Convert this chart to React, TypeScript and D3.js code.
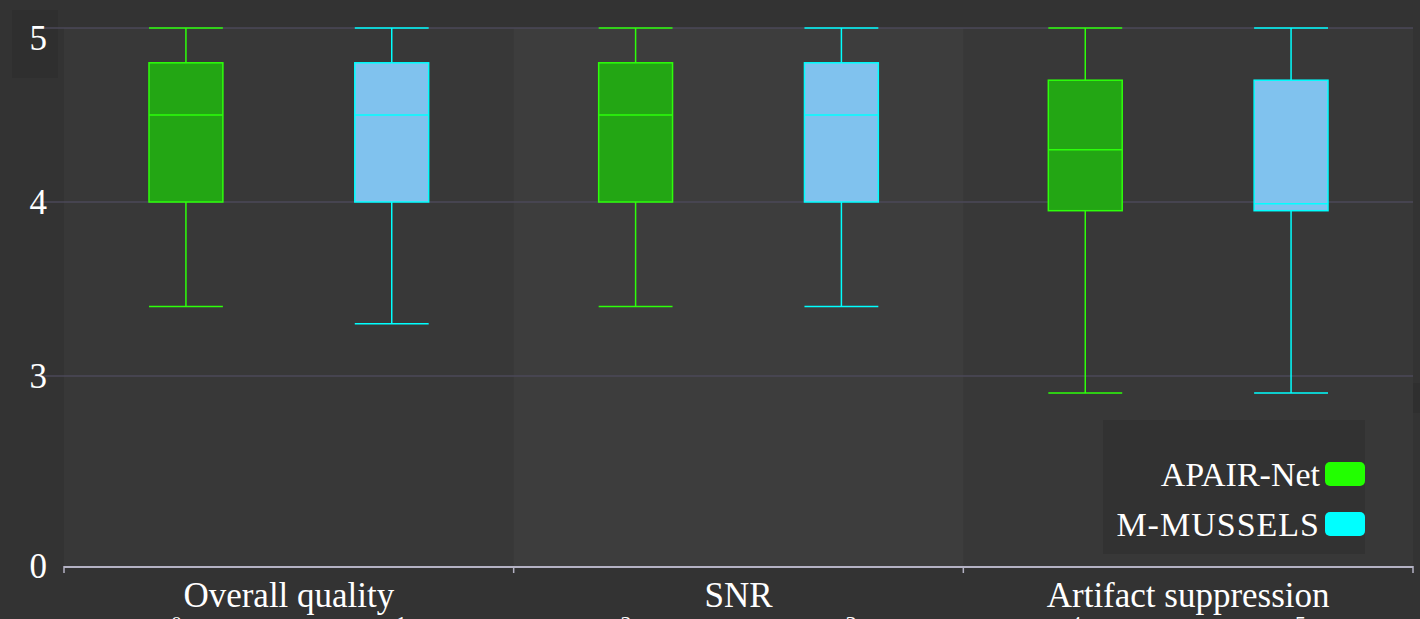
import React, { useEffect, useRef } from 'react';
import * as d3 from 'd3';

const categories = ['Overall quality', 'SNR', 'Artifact suppression'];
const seriesNames = ['APAIR-Net', 'M-MUSSELS'];

// [min, q1, median, q3, max] per category
const apairStats = [
  [3.4, 4.0, 4.5, 4.8, 5.0],
  [3.4, 4.0, 4.5, 4.8, 5.0],
  [2.73, 3.95, 4.3, 4.7, 5.0],
];
const mussselsStats = [
  [3.3, 4.0, 4.5, 4.8, 5.0],
  [3.4, 4.0, 4.5, 4.8, 5.0],
  [2.73, 3.95, 3.99, 4.7, 5.0],
];

const yTicks = [0, 3, 4, 5];
const indexTicks = ['0', '1', '2', '3', '4', '5'];

const fills = ['#23a614', '#80c2ee'];
const strokes = ['#2dff0a', '#00ffff'];
const swatches = ['#22ff00', '#00ffff'];

const App = () => {
  const svgRef = useRef(null);

  useEffect(() => {
    const width = 1420;
    const height = 619;
    const left = 64;
    const right = 1413;
    const top = 28;
    const bottom = 566;
    const font = '"Liberation Serif", "Times New Roman", serif';

    const svg = d3.select(svgRef.current);
    svg.selectAll('*').remove();

    svg.append('rect').attr('width', width).attr('height', height).attr('fill', '#333333');

    // odd dark patches from the original
    svg.append('rect').attr('x', 12).attr('y', 10).attr('width', 46).attr('height', 68).attr('fill', '#2f2f2f');
    svg.append('rect').attr('x', 1374).attr('y', 383).attr('width', 46).attr('height', 30).attr('fill', '#2f2f2f');

    // piecewise scale: 0..3 compressed
    const y = d3.scaleLinear().domain([0, 3, 5]).range([bottom, 376, top]);

    const x0 = d3.scaleBand().domain(categories).range([left, right]);
    const x1 = d3.scaleBand().domain(seriesNames).range([0, x0.bandwidth()])
      .paddingInner(0.641).paddingOuter(0.413);
    const xIdx = d3.scaleBand().domain(indexTicks).range([left, right]);

    // plot area + alternating band
    svg.append('rect')
      .attr('x', left).attr('y', top)
      .attr('width', right - left).attr('height', bottom - top)
      .attr('fill', '#383838');
    svg.append('rect')
      .attr('x', x0(categories[1])).attr('y', top)
      .attr('width', x0.bandwidth()).attr('height', bottom - top)
      .attr('fill', '#3d3d3d');

    // grid
    svg.append('g')
      .selectAll('line')
      .data(yTicks.filter((d) => d !== 0))
      .enter()
      .append('line')
      .attr('x1', left - 30)
      .attr('x2', right)
      .attr('y1', (d) => y(d))
      .attr('y2', (d) => y(d))
      .attr('stroke', '#4b4959')
      .attr('stroke-width', 1.5);

    // y labels (top one pushed down so it isn't clipped)
    svg.append('g')
      .selectAll('text')
      .data(yTicks)
      .enter()
      .append('text')
      .attr('x', 47)
      .attr('y', (d) => (d === 5 ? 50 : y(d) + 12))
      .attr('text-anchor', 'end')
      .attr('font-family', font)
      .attr('font-size', 35)
      .attr('fill', '#ffffff')
      .text((d) => d);

    // x axis
    svg.append('line')
      .attr('x1', left).attr('x2', right)
      .attr('y1', bottom + 1).attr('y2', bottom + 1)
      .attr('stroke', '#b4b2c4').attr('stroke-width', 2);
    const tickXs = categories.map((c) => x0(c)).concat([right]);
    svg.append('g')
      .selectAll('line')
      .data(tickXs)
      .enter()
      .append('line')
      .attr('x1', (d) => d).attr('x2', (d) => d)
      .attr('y1', bottom).attr('y2', bottom + 7)
      .attr('stroke', '#b4b2c4').attr('stroke-width', 1.5);

    svg.append('g')
      .selectAll('text')
      .data(categories)
      .enter()
      .append('text')
      .attr('x', (d) => x0(d) + x0.bandwidth() / 2)
      .attr('y', 607)
      .attr('text-anchor', 'middle')
      .attr('font-family', font)
      .attr('font-size', 35)
      .attr('fill', '#ffffff')
      .text((d) => d);

    // index row, mostly cut off by the bottom edge as in the original
    svg.append('g')
      .selectAll('text')
      .data(indexTicks)
      .enter()
      .append('text')
      .attr('x', (d) => xIdx(d) + xIdx.bandwidth() / 2)
      .attr('y', 631)
      .attr('text-anchor', 'middle')
      .attr('font-family', font)
      .attr('font-size', 22)
      .attr('fill', '#ffffff')
      .text((d) => d);

    // boxes
    const allStats = [apairStats, mussselsStats];
    seriesNames.forEach((name, si) => {
      const g = svg.append('g');
      allStats[si].forEach((s, ci) => {
        const bx = x0(categories[ci]) + x1(name);
        const bw = x1.bandwidth();
        const cx = bx + bw / 2;
        const [mn, q1, med, q3, mx] = s;
        const line = (xa, ya, xb, yb) => g.append('line')
          .attr('x1', xa).attr('y1', ya).attr('x2', xb).attr('y2', yb)
          .attr('stroke', strokes[si]).attr('stroke-width', 1.5);
        line(cx, y(mx), cx, y(q3));
        line(cx, y(q1), cx, y(mn));
        line(bx, y(mx), bx + bw, y(mx));
        line(bx, y(mn), bx + bw, y(mn));
        g.append('rect')
          .attr('x', bx).attr('y', y(q3))
          .attr('width', bw).attr('height', y(q1) - y(q3))
          .attr('fill', fills[si])
          .attr('stroke', strokes[si])
          .attr('stroke-width', 1.5);
        line(bx, y(med), bx + bw, y(med));
      });
    });

    // legend
    const legend = svg.append('g');
    legend.append('rect')
      .attr('x', 1103).attr('y', 420).attr('width', 262).attr('height', 134)
      .attr('fill', '#323232');
    const legendY = d3.scalePoint().domain(seriesNames).range([474, 524]);
    seriesNames.forEach((name, i) => {
      legend.append('rect')
        .attr('x', 1325).attr('y', legendY(name) - 12)
        .attr('width', 40).attr('height', 24).attr('rx', 5)
        .attr('fill', swatches[i]);
      legend.append('text')
        .attr('x', 1320).attr('y', legendY(name) + 12)
        .attr('text-anchor', 'end')
        .attr('font-family', font)
        .attr('font-size', 34)
        .attr('letter-spacing', i === 1 ? 1 : 0)
        .attr('fill', '#ffffff')
        .text(name);
    });
  }, []);

  return (
    <svg
      ref={svgRef}
      width={1420}
      height={619}
      style={{ position: 'absolute', left: 0, top: 0, display: 'block' }}
    ></svg>
  );
};

export default App;
